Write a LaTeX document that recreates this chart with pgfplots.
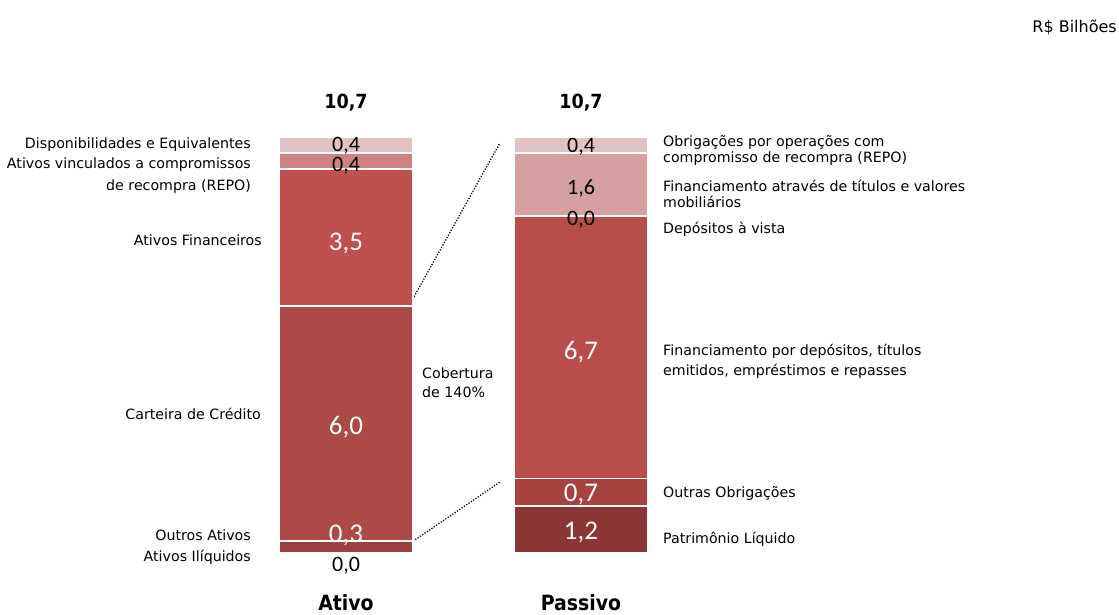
\documentclass[border=0pt]{standalone}
\usepackage{pgfplots}
\pgfplotsset{compat=1.18}
\usepackage{fontspec}
\setmainfont{DejaVu Sans}
\newfontfamily\cond{DejaVu Sans Condensed}
\newfontfamily\numfont{Carlito}
\definecolor{cDisp}{HTML}{E2C3C4}
\definecolor{cRepoA}{HTML}{CD8381}
\definecolor{cFin}{HTML}{C0504F}
\definecolor{cCart}{HTML}{AD4A48}
\definecolor{cOut}{HTML}{9E403F}
\definecolor{cObr}{HTML}{E2C3C4}
\definecolor{cTit}{HTML}{D7A0A0}
\definecolor{cDep}{HTML}{B84D4B}
\definecolor{cOO}{HTML}{A8423F}
\definecolor{cPL}{HTML}{8B3535}
\begin{document}
\begin{tikzpicture}
\begin{axis}[
  at={(0pt,0pt)}, anchor=south west,
  width=1119pt, height=614pt, scale only axis,
  xmin=-1.47234, xmax=3.28936, ymin=-1.5561, ymax=14.1071,
  hide axis, clip=false,
  ybar stacked, bar width=134pt,
  every axis plot/.append style={draw=white, line width=1.5pt},
]
% Ativo
\addplot[fill=cOut]  coordinates {(0,0.3) (1,0)};
\addplot[fill=cCart] coordinates {(0,6.0) (1,0)};
\addplot[fill=cFin]  coordinates {(0,3.5) (1,0)};
\addplot[fill=cRepoA] coordinates {(0,0.4) (1,0)};
\addplot[fill=cDisp] coordinates {(0,0.4) (1,0)};
% Passivo
\addplot[fill=cPL]  coordinates {(0,0) (1,1.2)};
\addplot[fill=cOO]  coordinates {(0,0) (1,0.7)};
\addplot[fill=cDep] coordinates {(0,0) (1,6.7)};
\addplot[fill=cDep] coordinates {(0,0) (1,0.0)};
\addplot[fill=cTit] coordinates {(0,0) (1,1.6)};
\addplot[fill=cObr] coordinates {(0,0) (1,0.4)};
\draw[black, line width=1.3pt, dash pattern=on 1.2pt off 1.6pt] (axis cs:0.272,6.35) -- (axis cs:0.655,10.46);
\draw[black, line width=1.3pt, dash pattern=on 1.2pt off 1.6pt] (axis cs:0.285,0.3) -- (axis cs:0.655,1.81);
\end{axis}
\begin{scope}[x=1pt,y=1pt]
\def\lf{\fontsize{14.2}{16}\selectfont}
\def\nf{\numfont\fontsize{22}{24}\selectfont}
\def\nfw{\numfont\fontsize{27}{29}\selectfont}
% top totals
\node[font=\cond\fontsize{19.5}{21}\selectfont\bfseries] at (346,614-103) {10,7};
\node[font=\cond\fontsize{19.5}{21}\selectfont\bfseries] at (581,614-103) {10,7};
% bottom category names
\node[font=\cond\fontsize{21}{23}\selectfont\bfseries] at (346,614-603) {Ativo};
\node[font=\cond\fontsize{21}{23}\selectfont\bfseries] at (581,614-603) {Passivo};
% unit
\node[font=\fontsize{16}{18}\selectfont, anchor=east, inner sep=0pt] at (1117,614-27) {R\$ Bilhões};
% values Ativo
\node[font=\nf, inner sep=0pt] at (346,614-146) {0,4};
\node[font=\nf, inner sep=0pt] at (346,614-166) {0,4};
\node[font=\nfw, text=white] at (346,614-243) {3,5};
\node[font=\nfw, text=white] at (346,614-427) {6,0};
\node[font=\nfw, text=white] at (346,614-535) {0,3};
\node[font=\nf] at (346,614-566) {0,0};
% values Passivo
\node[font=\nf] at (581,614-147) {0,4};
\node[font=\nf] at (581,614-188) {1,6};
\node[font=\nf] at (581,614-220) {0,0};
\node[font=\nfw, text=white] at (581,614-352) {6,7};
\node[font=\nfw, text=white] at (581,614-494) {0,7};
\node[font=\nfw, text=white] at (581,614-532) {1,2};
% left labels
\begin{scope}[every node/.style={font=\lf, anchor=east, inner sep=0pt}]
\node at (251,614-145) {Disponibilidades e Equivalentes};
\node at (251,614-165) {Ativos vinculados a compromissos};
\node at (251,614-187) {de recompra (REPO)};
\node at (262,614-240) {Ativos Financeiros};
\node at (261,614-414) {Carteira de Crédito};
\node at (251,614-535) {Outros Ativos};
\node at (251,614-557) {Ativos Ilíquidos};
\end{scope}
% right labels
\begin{scope}[every node/.style={font=\lf, anchor=west, inner sep=0pt}]
\node at (663,614-142) {Obrigações por operações com};
\node at (663,614-159) {compromisso de recompra (REPO)};
\node at (663,614-186) {Financiamento através de títulos e valores};
\node at (663,614-202) {mobiliários};
\node at (663,614-229) {Depósitos à vista};
\node at (663,614-351) {Financiamento por depósitos, títulos};
\node at (663,614-371) {emitidos, empréstimos e repasses};
\node at (663,614-493) {Outras Obrigações};
\node at (663,614-539) {Patrimônio Líquido};
\node at (422,614-373) {Cobertura};
\node at (422,614-392) {de 140\%};
\end{scope}
\end{scope}
\pgfresetboundingbox
\path (0,0) rectangle (1119pt,614pt);
\end{tikzpicture}
\end{document}
